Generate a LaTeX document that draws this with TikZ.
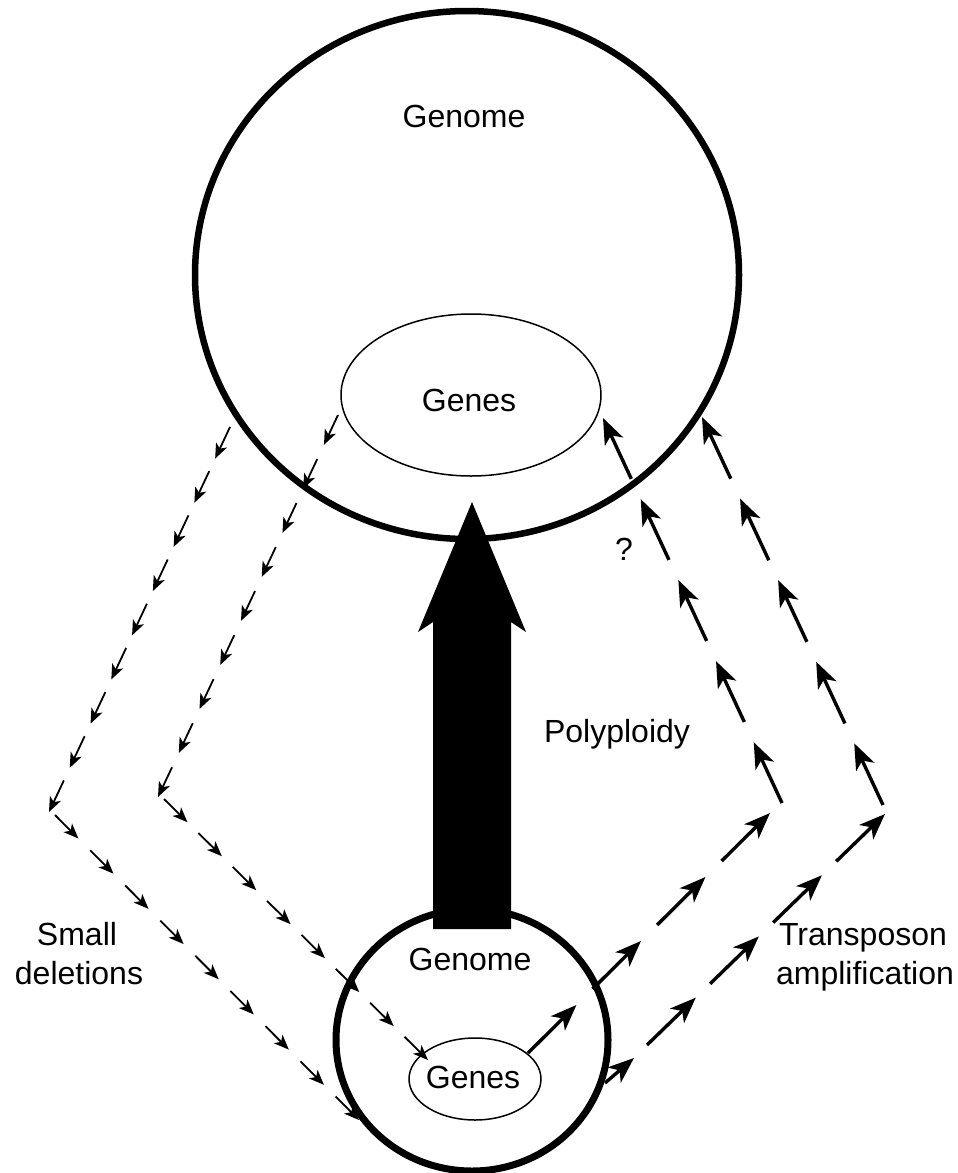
\documentclass[tikz,border=0pt]{standalone}
\usepackage{fontspec}
\setmainfont{Liberation Sans}
\usetikzlibrary{arrows.meta,calc,shapes.geometric}
\tikzset{
  lbl/.style={font=\fontsize{32}{38}\selectfont, anchor=base, inner sep=0pt},
  thinarr/.style={line width=1.8pt, -{Stealth[length=15pt,width=12pt,inset=4pt]}},
  thickarr/.style={line width=3.4pt, -{Stealth[length=26pt,width=20pt,inset=7pt]}},
  ring/.style={draw, ellipse, inner sep=0pt, outer sep=0pt},
}
\newcommand\arrowchain[5]{%
  \foreach \k in {1,...,#4}{%
    \pgfmathsetmacro\ta{(\k-1)*(1-#5)/(#4-1)}%
    \pgfmathsetmacro\tb{\ta+#5}%
    \draw[#1] ($(#2)!\ta!(#3)$) -- ($(#2)!\tb!(#3)$);
  }%
}
\begin{document}
\begin{tikzpicture}[x=1pt,y=-1pt]
\useasboundingbox (0,0) rectangle (958,1173);
% big genome
\node (bigG) [ring, line width=6.5pt, minimum width=544pt, minimum height=528pt] at (467,275) {};
\node (bigGenes) [ring, line width=1.5pt, minimum width=260pt, minimum height=162pt] at (471,395) {};
\node (tBigGenome) [lbl] at (464,127) {Genome};
\node (tBigGenes) [lbl] at (469,411) {Genes};
% small genome
\node (smG) [ring, line width=7pt, minimum width=272pt, minimum height=262pt] at (472,1040) {};
\node (smGenes) [ring, line width=1.5pt, minimum width=132pt, minimum height=82pt] at (475,1079) {};
\node (tSmGenome) [lbl] at (470,970) {Genome};
\node (tSmGenes) [lbl] at (473,1088) {Genes};
% polyploidy arrow
\coordinate (pbase) at (472,929);
\coordinate (ptip) at (472,502);
\fill ($(pbase)+(-39,0)$) -- ($(pbase)+(-39,-307)$) -- ($(pbase)+(-54,-297)$) -- (ptip)
  -- ($(pbase)+(54,-297)$) -- ($(pbase)+(39,-307)$) -- ($(pbase)+(39,0)$) -- cycle;
% labels
\node (tPoly) [lbl] at (617,742) {Polyploidy};
\node (tQ) [lbl] at (624,560) {?};
\node (tSmall) [lbl] at (77,945) {Small};
\node (tDel) [lbl] at (79,984) {deletions};
\node (tTrans) [lbl] at (863,945) {Transposon};
\node (tAmp) [lbl] at (865,984) {amplification};
% small deletions chains
\coordinate (lo1) at (230,427);
\coordinate (lo2) at (49,812);
\coordinate (lo3) at (55,815);
\coordinate (lo4) at (359,1120);
\coordinate (li1) at (338,415);
\coordinate (li2) at (158,797);
\coordinate (li3) at (164,799);
\coordinate (li4) at (428,1060);
\arrowchain{thinarr}{lo1}{lo2}{9}{0.082}
\arrowchain{thinarr}{lo3}{lo4}{9}{0.077}
\arrowchain{thinarr}{li1}{li2}{9}{0.078}
\arrowchain{thinarr}{li3}{li4}{8}{0.089}
% transposon chains
\coordinate (ri1) at (528,1053);
\coordinate (ri2) at (770,813);
\coordinate (ri3) at (782,803);
\coordinate (ri4) at (603,418);
\arrowchain{thickarr}{ri1}{ri2}{4}{0.2}
\arrowchain{thickarr}{ri3}{ri4}{5}{0.158}
\coordinate (ro0) at (605,1083);
\coordinate (ro0b) at (634,1058);
\coordinate (ro1) at (647,1045);
\coordinate (ro2) at (885,814);
\coordinate (ro3) at (883,805);
\coordinate (ro4) at (702,417);
\draw[thickarr] (ro0) -- (ro0b);
\arrowchain{thickarr}{ro1}{ro2}{4}{0.205}
\arrowchain{thickarr}{ro3}{ro4}{5}{0.159}
\end{tikzpicture}
\end{document}
